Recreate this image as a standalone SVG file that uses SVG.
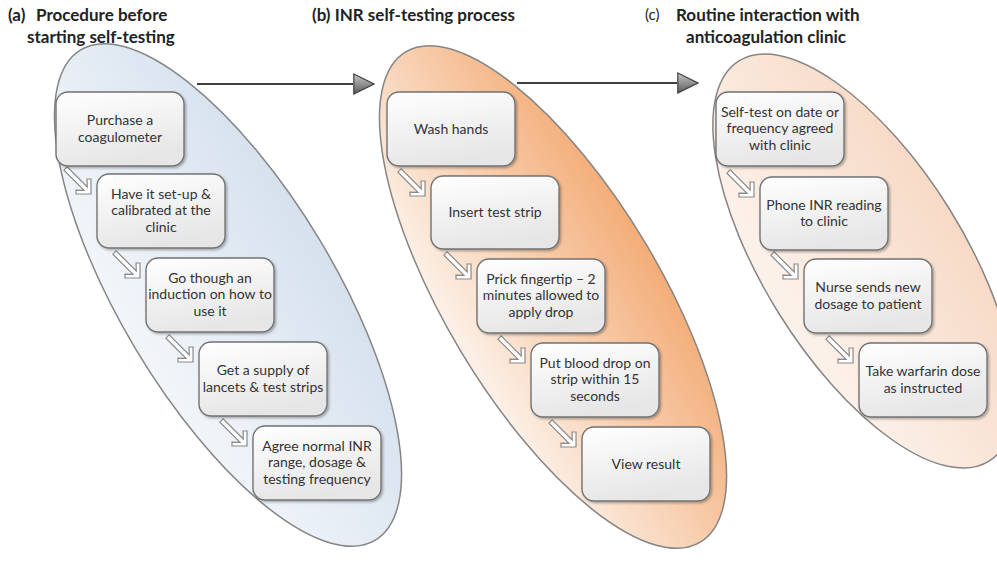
<svg xmlns="http://www.w3.org/2000/svg" xmlns:xlink="http://www.w3.org/1999/xlink" width="997" height="571" viewBox="0 0 997 571">
<defs>
<linearGradient id="gA" x1="0" y1="0" x2="0" y2="1"><stop offset="0" stop-color="#d6e1ee"/><stop offset="1" stop-color="#f2f6fa"/></linearGradient>
<linearGradient id="gB" x1="0" y1="0" x2="0" y2="1"><stop offset="0" stop-color="#f3ad78"/><stop offset="1" stop-color="#fcf1e8"/></linearGradient>
<linearGradient id="gC" x1="0" y1="0" x2="0" y2="1"><stop offset="0" stop-color="#f7dac6"/><stop offset="1" stop-color="#fcf2eb"/></linearGradient>
<linearGradient id="gBox" x1="0" y1="0" x2="0.3" y2="1"><stop offset="0" stop-color="#ffffff"/><stop offset="1" stop-color="#e6e6e6"/></linearGradient>
<linearGradient id="gHead" x1="0" y1="0" x2="0" y2="1"><stop offset="0" stop-color="#c8c8c8"/><stop offset="1" stop-color="#5a5a5a"/></linearGradient>
<filter id="sh" x="-10%" y="-10%" width="130%" height="130%"><feDropShadow dx="1.5" dy="1.5" stdDeviation="1.3" flood-color="#000" flood-opacity="0.3"/></filter>
<marker id="mh" markerUnits="userSpaceOnUse" viewBox="0 0 22 22" refX="0" refY="11" markerWidth="22" markerHeight="22" orient="auto"><path d="M0.8,1 L21,11 L0.8,21 Z" fill="url(#gHead)" stroke="#404040" stroke-width="1.2"/></marker>
<polygon id="sa" points="0,0 -10.6,-10.6 -13.4,-7.8 -7.6,-2.3 -36,-2.3 -36,2.3 -7.6,2.3 -13.4,7.8 -10.6,10.6"/>
</defs>
<style>
.ell{stroke:#858585;stroke-width:1.5}
.box{fill:url(#gBox);stroke:#737373;stroke-width:1.4;filter:url(#sh)}
.t{font-family:Lato,"Open Sans","Liberation Sans",sans-serif;font-size:14px;fill:#333;text-anchor:middle}
.ti{font-family:Lato,"Open Sans","Liberation Sans",sans-serif;font-size:17px;font-weight:bold;fill:#222}
.sa{fill:#fff;stroke:#8a8a8a;stroke-width:1.2}
.big{stroke:#404040;stroke-width:1.8;fill:none}
</style>
<rect width="997" height="571" fill="#fff"/>
<g id="titles">
<text class="ti" y="21"><tspan x="8">(a)</tspan><tspan x="36">Procedure before</tspan></text>
<text class="ti" x="27" y="43">starting self-testing</text>
<text class="ti" x="312" y="21">(b) INR self-testing process</text>
<text class="ti" x="645" y="20" style="font-weight:normal;font-size:15px">(c)</text>
<text class="ti" x="676" y="21">Routine interaction with</text>
<text class="ti" x="686" y="43">anticoagulation clinic</text>
</g>
<g id="groupA"><ellipse class="ell" cx="0" cy="0" rx="286" ry="107" fill="url(#gA)" transform="translate(228,295) rotate(59)"/></g>
<g id="groupB"><ellipse class="ell" cx="0" cy="0" rx="286" ry="107" fill="url(#gB)" transform="translate(553,297) rotate(59)"/></g>
<g id="groupC"><ellipse class="ell" cx="0" cy="0" rx="236" ry="100" fill="url(#gC)" transform="translate(864,261) rotate(58)"/></g>
<g id="connectors">
<path class="big" d="M197,84 H353" marker-end="url(#mh)"/>
<path class="big" d="M517,83 H677" marker-end="url(#mh)"/>
<use href="#sa" class="sa" transform="translate(91,194) rotate(45)"/>
<use href="#sa" class="sa" transform="translate(140,278) rotate(45)"/>
<use href="#sa" class="sa" transform="translate(193,362) rotate(45)"/>
<use href="#sa" class="sa" transform="translate(247,446) rotate(45)"/>
<use href="#sa" class="sa" transform="translate(425,196) rotate(45)"/>
<use href="#sa" class="sa" transform="translate(471,279) rotate(45)"/>
<use href="#sa" class="sa" transform="translate(525,363) rotate(45)"/>
<use href="#sa" class="sa" transform="translate(576,447) rotate(45)"/>
<use href="#sa" class="sa" transform="translate(754,197) rotate(45)"/>
<use href="#sa" class="sa" transform="translate(798,279) rotate(45)"/>
<use href="#sa" class="sa" transform="translate(853,363) rotate(45)"/>
</g>
<g id="a1"><rect class="box" x="56" y="92" width="128" height="74" rx="12"/><text class="t"><tspan x="120" y="125">Purchase a</tspan><tspan x="120" y="141.7">coagulometer</tspan></text></g>
<g id="a2"><rect class="box" x="97" y="174" width="128" height="74" rx="12"/><text class="t"><tspan x="161" y="198.5">Have it set-up &amp;</tspan><tspan x="161" y="215.2">calibrated at the</tspan><tspan x="161" y="231.9">clinic</tspan></text></g>
<g id="a3"><rect class="box" x="146" y="258" width="128" height="74" rx="12"/><text class="t"><tspan x="210" y="282.5">Go though an</tspan><tspan x="210" y="299.2">induction on how to</tspan><tspan x="210" y="315.9">use it</tspan></text></g>
<g id="a4"><rect class="box" x="199" y="342" width="128" height="74" rx="12"/><text class="t"><tspan x="263" y="375">Get a supply of</tspan><tspan x="263" y="391.7">lancets &amp; test strips</tspan></text></g>
<g id="a5"><rect class="box" x="253" y="426" width="128" height="74" rx="12"/><text class="t"><tspan x="317" y="450.5">Agree normal INR</tspan><tspan x="317" y="467.2">range, dosage &amp;</tspan><tspan x="317" y="483.9">testing frequency</tspan></text></g>
<g id="b1"><rect class="box" x="387" y="92" width="128" height="74" rx="12"/><text class="t" x="451" y="133.5">Wash hands</text></g>
<g id="b2"><rect class="box" x="431" y="176" width="128" height="73" rx="12"/><text class="t" x="495" y="217">Insert test strip</text></g>
<g id="b3"><rect class="box" x="477" y="259" width="128" height="74" rx="12"/><text class="t"><tspan x="541" y="283.5">Prick fingertip – 2</tspan><tspan x="541" y="300.2">minutes allowed to</tspan><tspan x="541" y="316.9">apply drop</tspan></text></g>
<g id="b4"><rect class="box" x="531" y="343" width="128" height="74" rx="12"/><text class="t"><tspan x="595" y="367.5">Put blood drop on</tspan><tspan x="595" y="384.2">strip within 15</tspan><tspan x="595" y="400.9">seconds</tspan></text></g>
<g id="b5"><rect class="box" x="582" y="427" width="128" height="74" rx="12"/><text class="t" x="646" y="468.5">View result</text></g>
<g id="c1"><rect class="box" x="716" y="92" width="128" height="74" rx="12"/><text class="t"><tspan x="780" y="116.5">Self-test on date or</tspan><tspan x="780" y="133.2">frequency agreed</tspan><tspan x="780" y="149.9">with clinic</tspan></text></g>
<g id="c2"><rect class="box" x="760" y="177" width="128" height="73" rx="12"/><text class="t"><tspan x="824" y="209.5">Phone INR reading</tspan><tspan x="824" y="226.2">to clinic</tspan></text></g>
<g id="c3"><rect class="box" x="804" y="259" width="128" height="74" rx="12"/><text class="t"><tspan x="868" y="292">Nurse sends new</tspan><tspan x="868" y="308.7">dosage to patient</tspan></text></g>
<g id="c4"><rect class="box" x="859" y="343" width="128" height="74" rx="12"/><text class="t"><tspan x="923" y="376">Take warfarin dose</tspan><tspan x="923" y="392.7">as instructed</tspan></text></g>
</svg>
